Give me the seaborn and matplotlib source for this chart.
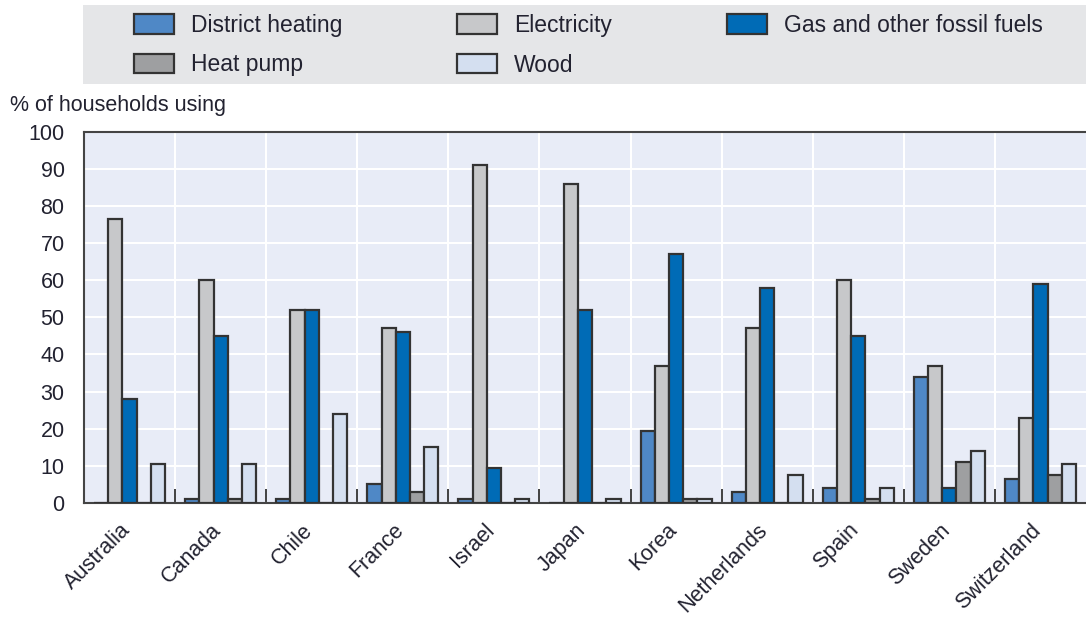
import numpy as np
import pandas as pd
import matplotlib
matplotlib.use("Agg")
import matplotlib.pyplot as plt
import matplotlib.transforms as mtransforms
from matplotlib.patches import Rectangle
from matplotlib.ticker import FixedLocator
import seaborn as sns

# data
countries = ["Australia", "Canada", "Chile", "France", "Israel", "Japan",
             "Korea", "Netherlands", "Spain", "Sweden", "Switzerland"]
district_heating = [0, 1, 1, 5, 1, 0, 19.5, 3, 4, 34, 6.5]
electricity = [76.5, 60, 52, 47, 91, 86, 37, 47, 60, 37, 23]
gas_fossil = [28, 45, 52, 46, 9.5, 52, 67, 58, 45, 4, 59]
heat_pump = [0, 1, 0, 3, 0, 0, 1, 0, 1, 11, 7.5]
wood = [10.5, 10.5, 24, 15, 1, 1, 1, 7.5, 4, 14, 10.5]

series = ["District heating", "Electricity", "Gas and other fossil fuels",
          "Heat pump", "Wood"]
colors = {"District heating": "#4f88c6", "Electricity": "#c7c8ca",
          "Gas and other fossil fuels": "#006bb6", "Heat pump": "#9e9fa1",
          "Wood": "#d4dff0"}

df = pd.DataFrame({"country": countries,
                   "District heating": district_heating,
                   "Electricity": electricity,
                   "Gas and other fossil fuels": gas_fossil,
                   "Heat pump": heat_pump,
                   "Wood": wood})
long = df.melt(id_vars="country", var_name="source", value_name="pct")

sns.set_style("white")
plt.rcParams["font.family"] = ["Liberation Sans", "DejaVu Sans"]
txt = "#222230"

fig = plt.figure(figsize=(10.86, 6.17), dpi=100)
ax = fig.add_axes([84 / 1086, 1 - 503 / 617, 1 - 84 / 1086, (503 - 131.5) / 617])
ax.set_facecolor("#e8ecf7")

sns.barplot(data=long, x="country", y="pct", hue="source", hue_order=series,
            palette=colors, width=0.78, edgecolor="#333333", linewidth=1.6,
            saturation=1, ax=ax, zorder=3)

ax.set_xlim(-0.5, len(countries) - 0.5)
ax.set_ylim(0, 100)
ax.set_yticks(np.arange(0, 101, 10))
ax.xaxis.set_minor_locator(FixedLocator(np.arange(0.5, len(countries) - 0.5, 1)))
ax.grid(axis="y", which="major", color="white", linewidth=1.5, zorder=0)
ax.grid(axis="x", which="minor", color="white", linewidth=1.5, zorder=0)
ax.grid(axis="x", which="major", visible=False)
ax.set_axisbelow(True)

ax.tick_params(axis="y", direction="in", length=12, width=1.3, color="#333333",
               labelsize=15.5, labelcolor=txt, pad=14)
ax.tick_params(axis="x", which="major", length=0, labelsize=15.5, labelcolor=txt, pad=12)
ax.tick_params(axis="x", which="minor", direction="in", length=10, width=1.3,
               color="#333333", bottom=True)
shift = mtransforms.ScaledTranslation(-10 / 100, 0, fig.dpi_scale_trans)
for lab in ax.get_xticklabels():
    lab.set_rotation(45)
    lab.set_ha("right")
    lab.set_rotation_mode("anchor")
    lab.set_transform(lab.get_transform() + shift)

for side in ["left", "top", "bottom"]:
    ax.spines[side].set_color("#444444")
    ax.spines[side].set_linewidth(1.5)
ax.spines["right"].set_visible(False)
ax.set_xlabel("")
ax.set_ylabel("")
fig.text(10 / 1086, 1 - 106 / 617, "% of households using", fontsize=15.5,
         color=txt, va="center", ha="left")

# legend box across the top
fig.patches.append(Rectangle((83 / 1086, 1 - 84 / 617), 1 - 83 / 1086, 79 / 617,
                             transform=fig.transFigure, facecolor="#e5e6e8",
                             edgecolor="none", zorder=0))
handles, labels = ax.get_legend_handles_labels()
ax.get_legend().remove()
order = ["District heating", "Heat pump", "Electricity", "Wood",
         "Gas and other fossil fuels"]
hmap = dict(zip(labels, handles))
leg = fig.legend([hmap[k] for k in order], order, ncol=3, loc="upper left",
                 bbox_to_anchor=(134 / 1086, 1 - 14 / 617), frameon=False,
                 fontsize=16.5, handlelength=1.75, handleheight=0.92,
                 handletextpad=0.74, labelspacing=0.72, columnspacing=5.0,
                 borderpad=0, borderaxespad=0)
for t in leg.get_texts():
    t.set_color(txt)

plt.savefig("out.png", dpi=100)
